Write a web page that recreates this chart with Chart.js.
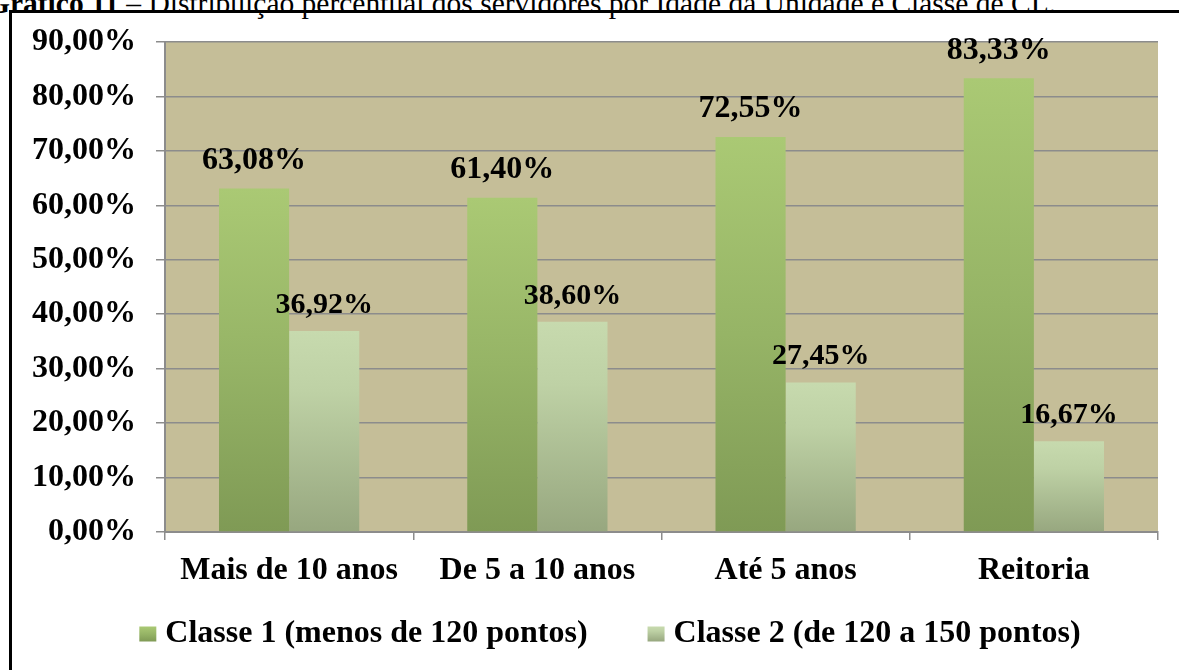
<!DOCTYPE html>
<html>
<head>
<meta charset="utf-8">
<script src="https://cdn.jsdelivr.net/npm/chart.js@4.4.0/dist/chart.umd.min.js"></script>
<style>
  html, body { margin: 0; padding: 0; background: #fff; }
  body { width: 1179px; height: 670px; position: relative; overflow: hidden; }
  #caption {
    position: absolute; left: -13px; top: -11px;
    font-family: 'Liberation Serif', 'Times New Roman', serif;
    font-size: 29.5px; line-height: 29.5px; white-space: nowrap; color: #000;
  }
  #frame { position: absolute; left: 9px; top: 10px; width: 1300px; height: 800px; border: 3px solid #000; }
  #chart { position: absolute; left: 0; top: 0; }
</style>
</head>
<body>
<div id="caption"><b>Gráfico 11</b> – Distribuição percentual dos servidores por Idade da Unidade e Classe de CL.</div>
<div id="frame"></div>
<canvas id="chart" width="1179" height="670"></canvas>
<script>
// chart data
const categories = ['Mais de 10 anos', 'De 5 a 10 anos', 'Até 5 anos', 'Reitoria'];
const seriesNames = ['Classe 1 (menos de 120 pontos)', 'Classe 2 (de 120 a 150 pontos)'];
const classe1 = [63.08, 61.40, 72.55, 83.33];
const classe2 = [36.92, 38.60, 27.45, 16.67];
const yMax = 90;
const yStep = 10;

const serif = "'Liberation Serif', 'Times New Roman', serif";
const gridGray = '#8C8C8C';
const darkStops = [[0, '#AAC974'], [0.5, '#96B466'], [1, '#7F9A55']];
const lightStops = [[0, '#C7DAAE'], [0.3, '#BED1A5'], [1, '#97A77F']];

function fmt(v) {
    return v.toFixed(2).replace('.', ',') + '%';
}

// vertical gradient per bar, from the bar top to the zero line
function barGradient(stops, fallback) {
    return function (context) {
        const chart = context.chart;
        if (!chart.chartArea || context.type !== 'data') return fallback;
        const y = chart.scales.y;
        const top = y.getPixelForValue(context.raw);
        const bottom = y.getPixelForValue(0);
        const g = chart.ctx.createLinearGradient(0, top, 0, bottom);
        stops.forEach(s => g.addColorStop(s[0], s[1]));
        return g;
    };
}

const plotBackground = {
    id: 'plotBackground',
    beforeDraw(chart) {
        const a = chart.chartArea;
        const ctx = chart.ctx;
        ctx.save();
        ctx.fillStyle = '#C5BE98';
        ctx.fillRect(a.left, a.top, a.right - a.left, a.bottom - a.top);
        ctx.restore();
    }
};

const valueLabels = {
    id: 'valueLabels',
    afterDatasetsDraw(chart) {
        const ctx = chart.ctx;
        ctx.save();
        ctx.fillStyle = '#000';
        ctx.textAlign = 'center';
        ctx.textBaseline = 'middle';
        chart.data.datasets.forEach((ds, i) => {
            const meta = chart.getDatasetMeta(i);
            ctx.font = 'bold ' + (i === 0 ? 32 : 30) + 'px ' + serif;
            const lift = i === 0 ? 28 : 26;
            meta.data.forEach((bar, j) => {
                ctx.fillText(fmt(ds.data[j]), bar.x, bar.y - lift);
            });
        });
        ctx.restore();
    }
};

// legend drawn below the axis, centred like the original
const bottomLegend = {
    id: 'bottomLegend',
    afterDraw(chart) {
        const ctx = chart.ctx;
        const stops = [darkStops, lightStops];
        ctx.save();
        ctx.font = 'bold 32px ' + serif;
        ctx.textBaseline = 'middle';
        ctx.textAlign = 'left';
        const names = chart.data.datasets.map(d => d.label);
        const widths = names.map(n => ctx.measureText(n).width);
        const boxW = 17, boxH = 15, gap = 9, between = 60;
        const total = widths.reduce((s, w) => s + boxW + gap + w, 0) + between * (names.length - 1);
        let x = 610 - total / 2;
        const cy = 634;
        names.forEach((n, i) => {
            const g = ctx.createLinearGradient(0, cy - boxH / 2, 0, cy + boxH / 2);
            stops[i].forEach(s => g.addColorStop(s[0], s[1]));
            ctx.fillStyle = g;
            ctx.fillRect(x, cy - boxH / 2, boxW, boxH);
            ctx.fillStyle = '#000';
            ctx.fillText(n, x + boxW + gap, cy);
            x += boxW + gap + widths[i] + between;
        });
        ctx.restore();
    }
};

new Chart(document.getElementById('chart'), {
    type: 'bar',
    data: {
        labels: categories,
        datasets: [
            {
                label: seriesNames[0],
                data: classe1,
                backgroundColor: barGradient(darkStops, '#93B267'),
                barPercentage: 1,
                categoryPercentage: 0.565
            },
            {
                label: seriesNames[1],
                data: classe2,
                backgroundColor: barGradient(lightStops, '#B3C39C'),
                barPercentage: 1,
                categoryPercentage: 0.565
            }
        ]
    },
    options: {
        responsive: false,
        animation: false,
        layout: { padding: { left: 0, right: 21, top: 42, bottom: 0 } },
        plugins: {
            tooltip: { enabled: false },
            legend: { display: false }
        },
        scales: {
            x: {
                grid: { offset: true, drawOnChartArea: false, drawTicks: true, tickLength: 8, color: gridGray, lineWidth: 1.5 },
                border: { color: gridGray, width: 2 },
                ticks: { color: '#000', font: { family: serif, size: 32, weight: 'bold' }, padding: 12, maxRotation: 0 },
                afterFit(scale) { scale.height = 138; }
            },
            y: {
                min: 0,
                max: yMax,
                ticks: {
                    stepSize: yStep,
                    color: '#000',
                    font: { family: serif, size: 32, weight: 'bold' },
                    padding: 20,
                    callback: v => fmt(v)
                },
                grid: { color: gridGray, lineWidth: 1.5, tickLength: 9 },
                border: { color: gridGray, width: 2 },
                afterFit(scale) { scale.width = 165; }
            }
        }
    },
    plugins: [plotBackground, valueLabels, bottomLegend]
});
</script>
</body>
</html>
